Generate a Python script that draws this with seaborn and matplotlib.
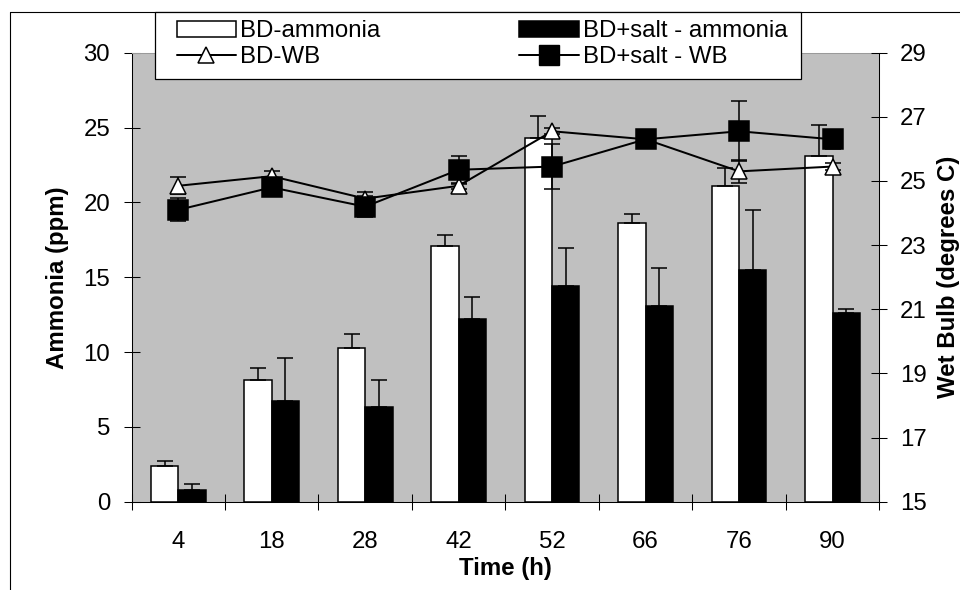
import matplotlib
matplotlib.use("Agg")
import matplotlib.pyplot as plt
from matplotlib.lines import Line2D
from matplotlib.patches import Rectangle, Patch
import numpy as np
import pandas as pd
import seaborn as sns

# Sampling times (h)
time_h = ["4", "18", "28", "42", "52", "66", "76", "90"]

# Ammonia concentration (ppm) with upper error
bd_ammonia = [2.4, 8.1, 10.3, 17.1, 24.3, 18.6, 21.1, 23.1]
bd_ammonia_err = [0.3, 0.8, 0.9, 0.7, 1.5, 0.65, 1.2, 2.1]
salt_ammonia = [0.8, 6.7, 6.3, 12.2, 14.4, 13.1, 15.5, 12.6]
salt_ammonia_err = [0.4, 2.9, 1.8, 1.45, 2.55, 2.5, 4.0, 0.25]

# Wet bulb temperature (degrees C) with error
bd_wb = [24.85, 25.15, 24.45, 24.85, 26.55, 26.3, 25.3, 25.45]
bd_wb_err = [0.27, 0.15, 0.2, 0.1, 0.1, 0.1, 0.36, 0.1]
salt_wb = [24.1, 24.8, 24.2, 25.35, 25.45, 26.3, 26.55, 26.3]
salt_wb_err = [0.36, 0.1, 0.33, 0.44, 0.7, 0.1, 0.94, 0.3]

series_names = ["BD-ammonia", "BD+salt - ammonia", "BD-WB", "BD+salt - WB"]

sns.set_theme(style="ticks", rc={
    "axes.edgecolor": "black", "text.color": "black", "axes.labelcolor": "black",
    "xtick.color": "black", "ytick.color": "black",
})
plt.rcParams["font.family"] = ["Liberation Sans", "DejaVu Sans"]
FS = 17.3

W, H = 960, 590
L, R, T, B = 131.5, 879.3, 52.7, 501.7
fig = plt.figure(figsize=(W / 100, H / 100), dpi=100)
fig.patch.set_facecolor("white")
ax = fig.add_axes([L / W, 1 - B / H, (R - L) / W, (B - T) / H])
ax.set_facecolor("#c0c0c0")

# Ammonia bars
bars = pd.DataFrame({
    "time": time_h * 2,
    "ammonia": bd_ammonia + salt_ammonia,
    "series": [series_names[0]] * len(time_h) + [series_names[1]] * len(time_h),
})
sns.barplot(data=bars, x="time", y="ammonia", hue="series", order=time_h,
            hue_order=series_names[:2], palette=["white", "black"], saturation=1,
            width=0.585, edgecolor="black", linewidth=1.1, errorbar=None,
            legend=False, ax=ax, zorder=2)

err_kw = dict(fmt="none", ecolor="black", elinewidth=1.1, capsize=5.6, capthick=1.1)
for container, vals, errs in zip(list(ax.containers),
                                 [bd_ammonia, salt_ammonia],
                                 [bd_ammonia_err, salt_ammonia_err]):
    xc = [p.get_x() + p.get_width() / 2 for p in container]
    ax.errorbar(xc, vals, yerr=[np.zeros(len(errs)), errs], zorder=3, **err_kw)

cat_x = ax.get_xticks()

# Wet bulb lines on the secondary axis
ax2 = ax.twinx()
for vals, errs in [(bd_wb, bd_wb_err), (salt_wb, salt_wb_err)]:
    ax2.errorbar(cat_x, vals, yerr=errs, zorder=2, **err_kw)

wb = pd.DataFrame({"time": time_h, series_names[2]: bd_wb, series_names[3]: salt_wb})
sns.pointplot(data=wb, x="time", y=series_names[2], order=time_h, color="black",
              markers="^", markersize=12, markerfacecolor="white",
              markeredgecolor="black", markeredgewidth=1.1, linewidth=1.44,
              errorbar=None, ax=ax2, zorder=3)
sns.pointplot(data=wb, x="time", y=series_names[3], order=time_h, color="black",
              markers="s", markersize=14, markerfacecolor="black",
              markeredgecolor="black", markeredgewidth=1.1, linewidth=1.44,
              errorbar=None, ax=ax2, zorder=4)

# Axes, ticks and labels
ax.set_xlim(-0.5, len(time_h) - 0.5)
ax.set_ylim(0, 30)
ax.set_yticks(range(0, 31, 5))
ax2.set_ylim(15, 29)
ax2.set_yticks(range(15, 30, 2))

ax.tick_params(axis="y", direction="inout", length=11.5, width=0.75, pad=9.7, labelsize=FS)
ax.tick_params(axis="x", which="major", length=0, pad=21.3, labelsize=FS)
ax.set_xticks(np.arange(-0.5, len(time_h), 1), minor=True)
ax.tick_params(axis="x", which="minor", direction="inout", length=11.5, width=0.75)
ax2.tick_params(axis="y", direction="inout", length=11.5, width=0.75, pad=9.1, labelsize=FS)

for side in ["left", "bottom"]:
    ax.spines[side].set_color("black")
    ax.spines[side].set_linewidth(0.75)
ax.spines["top"].set_visible(True)
ax.spines["top"].set_color("#9a9a9a")
ax.spines["top"].set_linewidth(0.75)
ax.spines["right"].set_visible(False)
for side in ["left", "top", "bottom"]:
    ax2.spines[side].set_visible(False)
ax2.spines["right"].set_visible(True)
ax2.spines["right"].set_color("black")
ax2.spines["right"].set_linewidth(0.75)

ax.set_xlabel("Time (h)", fontsize=FS, fontweight="bold")
ax.xaxis.set_label_coords(0.5, (B - 568) / (B - T))
ax.xaxis.label.set_va("center")
ax.set_ylabel("Ammonia (ppm)", fontsize=FS, fontweight="bold")
ax.yaxis.set_label_coords((57.5 - L) / (R - L), 0.5)
ax.yaxis.label.set_va("center")
ax.yaxis.label.set_ha("center")
ax2.set_ylabel("Wet Bulb (degrees C)", fontsize=FS, fontweight="bold")
ax2.yaxis.set_label_coords((948 - L) / (R - L), 0.5)
ax2.yaxis.label.set_va("center")
ax2.yaxis.label.set_ha("center")

# Legend
handles = [
    Patch(facecolor="white", edgecolor="black", linewidth=1.1),
    Line2D([], [], color="black", lw=1.44, marker="^", ms=12, mfc="white", mec="black", mew=1.1),
    Patch(facecolor="black", edgecolor="black", linewidth=1.1),
    Line2D([], [], color="black", lw=1.44, marker="s", ms=14, mfc="black", mec="black"),
]
labels = [series_names[0], series_names[2], series_names[1], series_names[3]]
leg = fig.legend(handles, labels, ncol=2, loc="center",
                 bbox_to_anchor=(482 / W, 1 - 44 / H), frameon=False, fontsize=FS,
                 handlelength=2.46, handleheight=0.667, handletextpad=0.17,
                 columnspacing=5.8, labelspacing=0.15, borderpad=0, borderaxespad=0)
leg.set_zorder(5)
fig.add_artist(Rectangle((155 / W, 1 - 79 / H), (801 - 155) / W, (79 - 11.7) / H,
                         transform=fig.transFigure, facecolor="white",
                         edgecolor="black", linewidth=0.9, zorder=4))

# Chart frame
fx, fy = 9.5 / W, 1 - 11.7 / H
fig.add_artist(Line2D([fx, fx], [0, fy], transform=fig.transFigure, color="black", lw=0.8))
fig.add_artist(Line2D([fx, 1], [fy, fy], transform=fig.transFigure, color="black", lw=0.8))

fig.savefig("out.png", dpi=100)
